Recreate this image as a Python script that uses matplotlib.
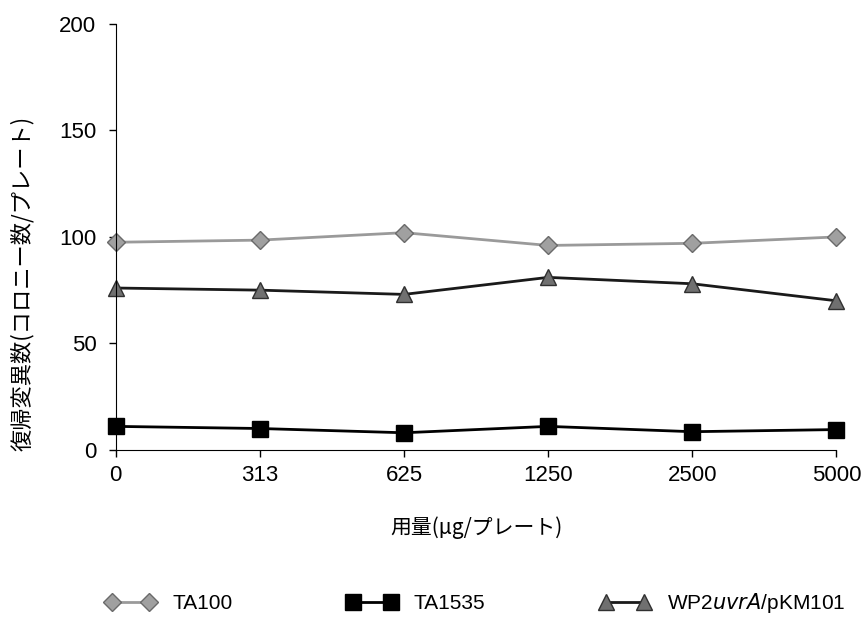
import numpy as np
import matplotlib.pyplot as plt

plt.rcParams['font.family'] = ['Liberation Sans', 'Noto Sans CJK JP', 'DejaVu Sans']

doses = ['0', '313', '625', '1250', '2500', '5000']
ta100 = [97.5, 98.5, 102, 96, 97, 100]
ta1535 = [11, 10, 8, 11, 8.5, 9.5]
wp2 = [76, 75, 73, 81, 78, 70]

fig = plt.figure(figsize=(8.64, 6.17), dpi=100)
ax = fig.add_axes([0.134, 0.271, 0.834, 0.69])

x = np.arange(len(doses))
ax.plot(x, ta100, color='#9a9a9a', lw=2, marker='D', ms=9,
        mfc='#a0a0a0', mec='#6a6a6a', mew=1, label='TA100', clip_on=False)
ax.plot(x, ta1535, color='black', lw=2, marker='s', ms=12,
        mfc='black', mec='black', label='TA1535', clip_on=False)
ax.plot(x, wp2, color='#1a1a1a', lw=2, marker='^', ms=12,
        mfc='#707070', mec='#303030', mew=1,
        label='WP2$\\it{uvrA}$/pKM101', clip_on=False)

ax.set_xlim(0, 5)
ax.set_ylim(0, 200)
ax.set_xticks(x)
ax.set_xticklabels(doses)
ax.set_yticks([0, 50, 100, 150, 200])
ax.spines['top'].set_visible(False)
ax.spines['right'].set_visible(False)
ax.tick_params(axis='both', labelsize=16, length=5, width=1)
ax.tick_params(axis='x', pad=6)
ax.tick_params(axis='y', pad=9)

ax.set_ylabel('復帰変異数(コロニー数/プレート)', fontsize=16,
              family=['Noto Sans CJK JP'])
ax.yaxis.set_label_coords(-0.114, 0.39)
ax.set_xlabel('用量(μg/プレート)', fontsize=15, labelpad=22,
              family=['Noto Sans CJK JP', 'DejaVu Sans'])

fig.legend(loc='center', bbox_to_anchor=(0.55, 0.022), ncol=3, frameon=False,
           numpoints=2, handlelength=2.4, fontsize=15, columnspacing=5.5)

fig.savefig('out.png', dpi=100)
